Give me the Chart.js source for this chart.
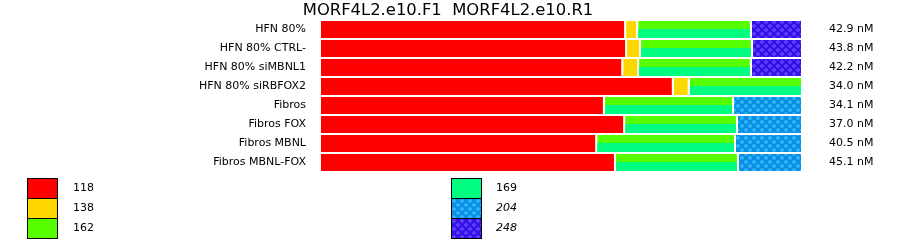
<!DOCTYPE html>
<html>
<head>
<meta charset="utf-8">
<script src="https://cdn.jsdelivr.net/npm/chart.js@4/dist/chart.umd.min.js"></script>
<style>
  html, body { margin: 0; padding: 0; background: #fff; }
  #wrap { position: relative; width: 900px; height: 242px; font-family: 'DejaVu Sans', sans-serif; color: #000; }
  #plot { position: absolute; left: 0; top: 0; }
  #title { position: absolute; left: 0; top: 0; width: 900px; text-align: center; font-size: 16.4px; line-height: 20px; white-space: pre; margin-left: -2px; }
  .sw { position: absolute; width: 31px; height: 21px; box-sizing: border-box; border: 1px solid #000; }
  .lab { position: absolute; font-size: 11px; line-height: 20px; }
</style>
</head>
<body>
<div id="wrap">
  <canvas id="plot" width="900" height="242"></canvas>
  <div id="title">MORF4L2.e10.F1  MORF4L2.e10.R1</div>
  <div id="legend"></div>
</div>
<script>
(function () {
  'use strict';

  // ---- data (share of each isoform, % of the bar) ----
  const samples = ['HFN 80%', 'HFN 80% CTRL-', 'HFN 80% siMBNL1', 'HFN 80% siRBFOX2',
                   'Fibros', 'Fibros FOX', 'Fibros MBNL', 'Fibros MBNL-FOX'];
  const conc = ['42.9 nM', '43.8 nM', '42.2 nM', '34.0 nM', '34.1 nM', '37.0 nM', '40.5 nM', '45.1 nM'];
  const s118 = [63.3, 63.5, 62.7, 73.2, 58.9, 63.1, 57.3, 61.2];
  const s138 = [2.5, 2.9, 3.3, 3.3, 0, 0, 0, 0];
  const s162_169 = [23.6, 23.2, 23.4, 23.5, 26.8, 23.4, 28.8, 25.5];   // shared 162 / 169 segment
  const s204 = [0, 0, 0, 0, 14.3, 13.5, 13.9, 13.3];
  const s248 = [10.6, 10.4, 10.6, 0, 0, 0, 0, 0];
  const sizes = ['118', '138', '162', '169', '204', '248'];
  const italic = ['204', '248'];

  const COL = { '118': '#ff0000', '138': '#ffd700', '162': '#55ff00', '169': '#00ff80' };

  function crossTile(base, light) {
    const c = document.createElement('canvas');
    c.width = c.height = 8;
    const g = c.getContext('2d');
    g.fillStyle = base; g.fillRect(0, 0, 8, 8);
    g.fillStyle = light;
    [[0, 0], [4, 4]].forEach(([ox, oy]) => {
      g.fillRect(ox + 1, oy, 2, 4);
      g.fillRect(ox, oy + 1, 4, 2);
    });
    return c;
  }
  const tiles = { '204': crossTile('#0a8ede', '#2cb0ff'), '248': crossTile('#3412e8', '#5a3cff') };

  const canvas = document.getElementById('plot');
  const ctx = canvas.getContext('2d');
  const fillOf = k => tiles[k] ? ctx.createPattern(tiles[k], 'repeat') : COL[k];

  // paints the lower half of a segment in its second colour
  const splitHalf = {
    id: 'splitHalf',
    afterDatasetDraw(chart, args) {
      const ds = chart.data.datasets[args.index];
      if (!ds.lowerColor) return;
      const c = chart.ctx;
      c.save();
      c.fillStyle = ds.lowerColor;
      args.meta.data.forEach(bar => {
        const p = bar.getProps(['x', 'y', 'base', 'height'], true);
        const left = Math.min(p.x, p.base), right = Math.max(p.x, p.base) - 2;
        if (right <= left) return;
        const top = Math.floor(p.y);
        c.fillRect(left, top, right - left, p.y + p.height / 2 - top);
      });
      c.restore();
    }
  };

  const seg = (label, data, key, extra) => Object.assign({
    label, data, backgroundColor: fillOf(key),
    borderColor: '#fff', borderWidth: { top: 0, right: 2, bottom: 0, left: 0 },
    borderSkipped: false, inflateAmount: 0,
    categoryPercentage: 17 / 19, barPercentage: 1
  }, extra || {});

  const tickFont = { family: 'DejaVu Sans', size: 11 };
  // fixed axis width, and no extra vertical padding from the labels
  const fixWidth = w => s => { s.width = w; s.paddingTop = 0; s.paddingBottom = 0; };

  new Chart(canvas, {
    type: 'bar',
    data: {
      labels: samples,
      datasets: [
        seg('118', s118, '118'),
        seg('138', s138, '138'),
        seg('162', s162_169, '162', { lowerColor: COL['169'] }),
        seg('204', s204, '204'),
        seg('248', s248, '248')
      ]
    },
    options: {
      indexAxis: 'y',
      responsive: false,
      animation: false,
      layout: { padding: { top: 20, bottom: 70, left: 0, right: 0 } },
      plugins: { legend: { display: false }, tooltip: { enabled: false }, title: { display: false } },
      scales: {
        x: { stacked: true, min: 0, max: 100, display: false },
        y: {
          stacked: true,
          grid: { display: false, drawTicks: false }, border: { display: false },
          ticks: { font: tickFont, color: '#000', padding: 15 },
          afterFit: fixWidth(321)
        },
        y2: {
          type: 'category', position: 'right', labels: conc, offset: true, display: true,
          grid: { display: false, drawTicks: false }, border: { display: false },
          ticks: { font: tickFont, color: '#000', padding: 26 },
          afterFit: fixWidth(97)
        }
      }
    },
    plugins: [splitHalf]
  });

  // ---- legend, two columns of three ----
  const legend = document.getElementById('legend');
  legend.innerHTML = sizes.map((k, i) => {
    const col = Math.floor(i / 3), row = i % 3;
    const sx = col ? 451 : 27, lx = col ? 496 : 73, y = 178 + row * 20;
    const bg = tiles[k] ? `background-image:url(${tiles[k].toDataURL()})` : `background:${COL[k]}`;
    const st = italic.includes(k) ? 'font-style:italic;' : '';
    return `<div class="sw" style="left:${sx}px;top:${y}px;${bg}"></div>` +
           `<div class="lab" style="left:${lx}px;top:${y}px;${st}">${k}</div>`;
  }).join('');
})();
</script>
</body>
</html>
